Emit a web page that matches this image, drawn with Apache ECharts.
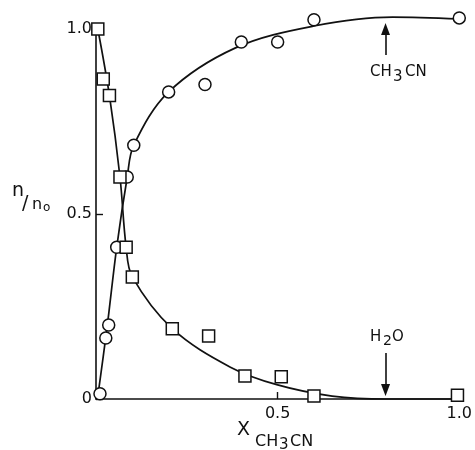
<!DOCTYPE html>
<html>
<head>
<meta charset="utf-8">
<script src="https://cdn.jsdelivr.net/npm/echarts@6/dist/echarts.min.js"></script>
<style>
  html, body { margin: 0; padding: 0; background: #fff; }
  #chart { width: 475px; height: 450px; }
</style>
</head>
<body>
<div id="chart"></div>
<script>
var ch3cnPoints = [[0.011, 0.014], [0.027, 0.165], [0.035, 0.20], [0.057, 0.41], [0.086, 0.60],
                   [0.104, 0.686], [0.20, 0.83], [0.30, 0.85], [0.40, 0.965], [0.50, 0.965],
                   [0.60, 1.025], [1.0, 1.03]];
var h2oPoints = [[0.005, 1.0], [0.02, 0.865], [0.037, 0.82], [0.066, 0.60], [0.083, 0.41],
                 [0.10, 0.33], [0.21, 0.19], [0.31, 0.17], [0.41, 0.062], [0.51, 0.06],
                 [0.60, 0.008], [0.995, 0.01]];

// hand drawn fit curves
var ch3cnCurve = [[0.004, 0.0], [0.03, 0.19], [0.057, 0.41], [0.086, 0.60], [0.104, 0.686],
                  [0.20, 0.83], [0.384, 0.949], [0.60, 1.008], [0.816, 1.032], [1.0, 1.027]];
var h2oCurve = [[0.005, 1.0], [0.037, 0.82], [0.066, 0.60], [0.083, 0.41], [0.10, 0.33],
                [0.21, 0.19], [0.37, 0.086], [0.50, 0.038], [0.65, 0.008], [0.80, 0.0],
                [1.0, 0.0]];

// arrows pointing at the two curves
var ch3cnArrow = [[0.797, 0.93], [0.797, 1.0]];
var h2oArrow = [[0.797, 0.124], [0.797, 0.024]];

var yTicks = [0, 0.5, 1.0];
var xTicks = [0.5, 1.0];

var ink = '#111';
var font = 'DejaVu Sans';

var chart = echarts.init(document.getElementById('chart'));

function arrow(coords) {
    return {
        silent: true,
        symbol: ['none', 'triangle'],
        symbolSize: [9, 12],
        lineStyle: { color: ink, width: 1.6, type: 'solid' },
        label: { show: false },
        data: [[{ coord: coords[0] }, { coord: coords[1] }]]
    };
}

// small helper for the hand lettered labels (sub/superscripts placed by hand)
function txt(s, x, y, size) {
    return {
        type: 'text', x: x, y: y, silent: true,
        style: { text: s, fontFamily: font, fontSize: size, fill: ink, align: 'left', verticalAlign: 'middle' }
    };
}

var option = {
    animation: false,
    backgroundColor: '#fff',
    grid: { left: 96, right: 5, top: 29, bottom: 51 },
    xAxis: {
        type: 'value', min: 0, max: 1, interval: 0.5,
        axisLine: { lineStyle: { color: ink, width: 1.6 } },
        axisTick: { inside: true, length: 7, lineStyle: { color: ink, width: 1.4 } },
        splitLine: { show: false },
        axisLabel: {
            color: ink, fontFamily: font, fontSize: 16, margin: 7,
            formatter: function (v) { return xTicks.indexOf(v) >= 0 ? v.toFixed(1) : ''; }
        }
    },
    yAxis: {
        type: 'value', min: 0, max: 1, interval: 0.5,
        axisLine: { lineStyle: { color: ink, width: 1.6 } },
        axisTick: { inside: true, length: 7, lineStyle: { color: ink, width: 1.4 } },
        splitLine: { show: false },
        axisLabel: {
            color: ink, fontFamily: font, fontSize: 16, margin: 4,
            formatter: function (v) {
                if (yTicks.indexOf(v) < 0) return '';
                return v === 0 ? '0' : v.toFixed(1);
            }
        }
    },
    graphic: [
        // y axis name  n/n0
        txt('n', 12, 191, 19),
        txt('/', 22, 204, 19),
        txt('n', 32, 205, 16),
        txt('o', 43, 207.5, 12),
        // x axis name  X CH3CN
        txt('X', 237, 430.5, 19),
        txt('CH', 255, 441.5, 16),
        txt('3', 279, 445, 15),
        txt('CN', 290, 441.5, 16),
        // curve labels
        txt('CH', 370, 72.5, 15),
        txt('3', 393, 77.5, 15),
        txt('CN', 405, 72.5, 15),
        txt('H', 370, 337.5, 15),
        txt('2', 383, 341, 14),
        txt('O', 392, 337.5, 15)
    ],
    series: [
        {
            name: 'CH3CN fit', type: 'line', data: ch3cnCurve,
            smooth: 0.35, showSymbol: false, clip: false,
            lineStyle: { color: ink, width: 1.7 }, z: 2,
            markLine: arrow(ch3cnArrow)
        },
        {
            name: 'H2O fit', type: 'line', data: h2oCurve,
            smooth: 0.35, showSymbol: false, clip: false,
            lineStyle: { color: ink, width: 1.7 }, z: 2,
            markLine: arrow(h2oArrow)
        },
        {
            name: 'CH3CN', type: 'scatter', data: ch3cnPoints, clip: false,
            symbol: 'circle', symbolSize: 12, z: 3,
            itemStyle: { color: '#fff', borderColor: ink, borderWidth: 1.5, opacity: 1 }
        },
        {
            name: 'H2O', type: 'scatter', data: h2oPoints, clip: false,
            symbol: 'rect', symbolSize: 12, z: 3,
            itemStyle: { color: '#fff', borderColor: ink, borderWidth: 1.5, opacity: 1 }
        }
    ]
};

chart.setOption(option);
</script>
</body>
</html>
